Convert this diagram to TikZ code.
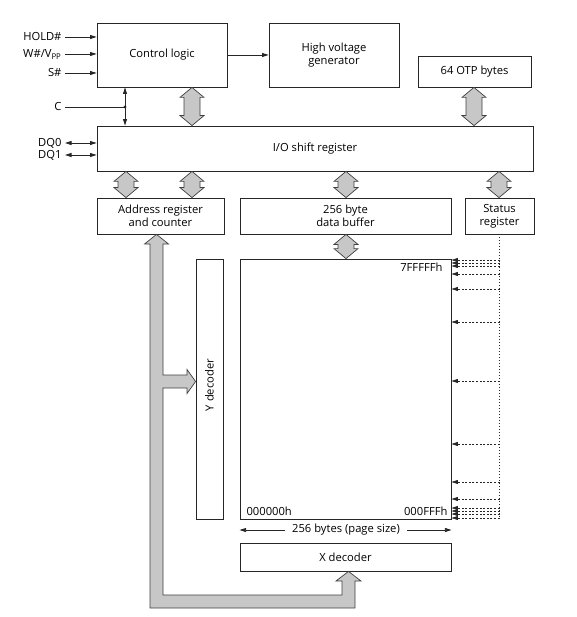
\documentclass[tikz,border=0pt]{standalone}
\usepackage{fontspec}
\setmainfont{Open Sans}
\usetikzlibrary{arrows.meta,calc}
\newcommand\fatdbl[3]{%
  \filldraw[fat] let \p1=(#2.south), \p2=(#3.north) in
    (#1pt,\y1) -- (#1pt+12pt,\y1-10pt) -- (#1pt+8pt,\y1-10pt) -- (#1pt+8pt,\y2+10pt)
    -- (#1pt+12pt,\y2+10pt) -- (#1pt,\y2) -- (#1pt-12pt,\y2+10pt) -- (#1pt-8pt,\y2+10pt)
    -- (#1pt-8pt,\y1-10pt) -- (#1pt-12pt,\y1-10pt) -- cycle;}
\begin{document}
\begin{tikzpicture}[x=1pt,y=-1pt,font=\fontsize{11.2}{13}\selectfont,
                ln/.style={draw=black!85,line width=0.8pt},
                blk/.style={ln,rectangle,align=center,inner sep=0pt},
                lbl/.style={anchor=east,text height=1.5ex,text depth=.25ex},
                fat/.style={draw=black!75,fill=black!22,line width=0.7pt},
                tip/.style={-{Triangle[length=6.5pt,width=4pt]}},
                tips/.style={{Triangle[length=6.5pt,width=4pt]}-{Triangle[length=6.5pt,width=4pt]}},
                dots/.style={line width=0.7pt,dash pattern=on 2pt off 1.6pt},
                vdots/.style={line width=0.8pt,dash pattern=on 1pt off 2pt}]
                \useasboundingbox (0,0) rectangle (576,617);
                \node[blk,minimum width=130pt,minimum height=64pt] (ctrl) at (162,55) {Control logic};
                \node[blk,minimum width=130pt,minimum height=64pt] (hvg) at (334,55) {High voltage\\generator};
                \node[blk,minimum width=113pt,minimum height=31pt] (otp) at (474.5,71.5) {64 OTP bytes};
                \node[blk,minimum width=436pt,minimum height=45pt] (io) at (315,148.5) {I/O shift register};
                \node[blk,minimum width=127pt,minimum height=36pt] (addr) at (160.5,216) {Address register\\and counter};
                \node[blk,minimum width=211pt,minimum height=36pt] (buf) at (345.5,216) {256 byte\\data buffer};
                \node[blk,minimum width=69pt,minimum height=36pt] (stat) at (499.5,216) {Status\\register};
                \node[blk,minimum width=27pt,minimum height=260pt] (ydec) at (209.5,389) {};
                \node[rotate=90] (ytxt) at (209.5,385) {Y decoder};
                \node[blk,minimum width=211pt,minimum height=260pt] (arr) at (345.5,389) {};
                \node[blk,minimum width=211pt,minimum height=28pt] (xdec) at (345.5,557) {X decoder};
                \node[lbl] (hold) at (65,37) {HOLD\#};
                \node[lbl] (wvpp) at (65,54) {W\#/V\textsubscript{PP}};
                \node[lbl] (sel) at (65,73) {S\#};
                \node[lbl] (clk) at (65,107) {C};
                \node[lbl] (dq0) at (65,143) {DQ0};
                \node[lbl] (dq1) at (65,155) {DQ1};
                \draw[ln,tip] (hold.east) -- (hold.east -| ctrl.west);
                \draw[ln,tip] (wvpp.east) -- (wvpp.east -| ctrl.west);
                \draw[ln,tip] (sel.east) -- (sel.east -| ctrl.west);
                \draw[ln,tip] (ctrl.east) -- (hvg.west);
                \coordinate (cdot) at (125,107);
                \draw[ln] (clk.east) -- (cdot);
                \fill[black!85] (cdot) circle (1.6pt);
                \draw[ln,tips] (ctrl.south -| cdot) -- (io.north -| cdot);
                \draw[ln,tips] (dq0.east) -- (dq0.east -| io.west);
                \draw[ln,tips] (dq1.east) -- (dq1.east -| io.west);
                \fatdbl{192}{ctrl}{io}
                \fatdbl{474}{otp}{io}
                \fatdbl{126}{io}{addr}
                \fatdbl{192}{io}{addr}
                \fatdbl{346}{io}{buf}
                \fatdbl{499}{io}{stat}
                \fatdbl{346}{buf}{arr}
                \filldraw[fat] (addr.south -| 156.5,0) -- (168.5,244) -- (163,244) -- (163,375) -- (187,375)
                    -- (187,369.5) -- (ydec.west |- 0,381.5) -- (187,393.5) -- (187,388) -- (163,388)
                    -- (163,595) -- (342,595) -- (342,581) -- (336,581) -- (xdec.south -| 348.5,0)
                    -- (361,581) -- (355,581) -- (355,608) -- (150,608) -- (150,244) -- (144.5,244) -- cycle;
                \coordinate (sbot) at (499.5,518);
                \draw[ln,vdots] (stat.south) -- (sbot);
                \foreach \y in {260,263,266,274,289,322,381,444,482,499,508,511,514,518}
                    \draw[ln,dots,tip] (sbot |- 0,\y) -- (arr.east |- 0,\y);
                \node[anchor=east] (top) at (446,267) {7FFFFFh};
                \node[anchor=west] (low) at (243,511) {000000h};
                \node[anchor=east] (high) at (451,511) {000FFFh};
                \node[inner xsep=7pt] (pg) at (346,530) {256 bytes (page size)};
                \draw[ln,tip] (pg.west) -- (pg.west -| arr.west);
                \draw[ln,tip] (pg.east) -- (pg.east -| arr.east);
            \end{tikzpicture}
\end{document}
